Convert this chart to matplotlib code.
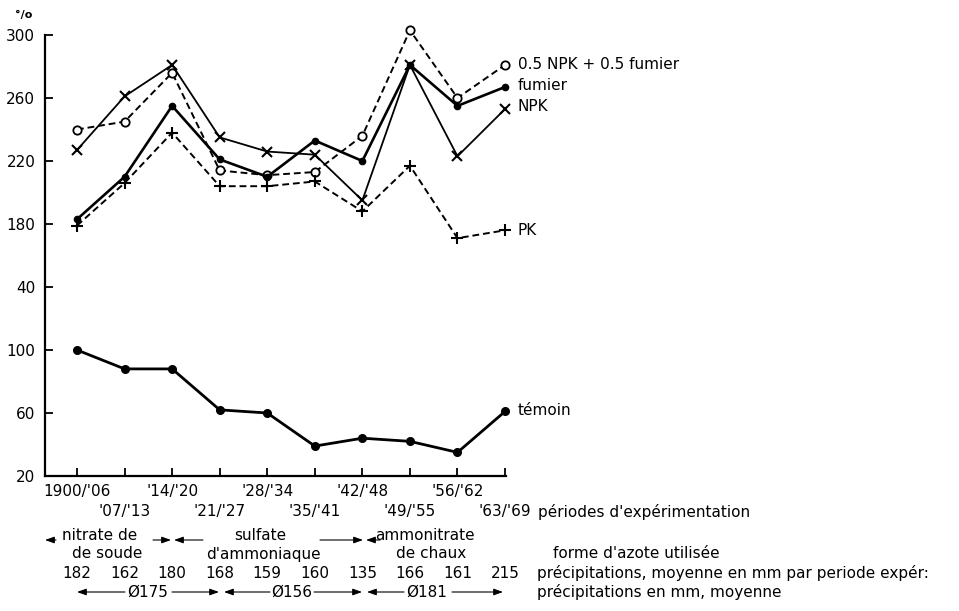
import numpy as np
import matplotlib
matplotlib.use('Agg')
import matplotlib.pyplot as plt
import matplotlib.transforms as mtransforms

# periods of experimentation (x axis)
periods = ["1900/'06", "'07/'13", "'14/'20", "'21/'27", "'28/'34",
           "'35/'41", "'42/'48", "'49/'55", "'56/'62", "'63/'69"]

# yields in %
npk_fumier = [240, 245, 276, 214, 211, 213, 236, 303, 260, 281]
fumier = [183, 210, 255, 221, 210, 233, 220, 281, 255, 267]
npk = [227, 261, 281, 235, 226, 224, 195, 281, 223, 253]
pk = [179, 206, 238, 204, 204, 207, 188, 217, 171, 176]
temoin = [100, 88, 88, 62, 60, 39, 44, 42, 35, 61]

# rainfall per period, mm
precip = [182, 162, 180, 168, 159, 160, 135, 166, 161, 215]
precip_mean = ['Ø175', 'Ø156', 'Ø181']

y_ticks = [20, 60, 100, 140, 180, 220, 260, 300]
y_tick_labels = ['20', '60', '100', '40', '180', '220', '260', '300']

W, H = 959, 611
FS = 11

fig = plt.figure(figsize=(W / 100, H / 100), dpi=100)
ax = fig.add_axes([45 / W, 1 - 476 / H, (506 - 45) / W, (476 - 35) / H])
x = np.arange(len(periods))

ax.plot(x, npk_fumier, ls=(0, (3.5, 2)), lw=1.4, color='k', marker='o',
        ms=6, mfc='white', mec='k', mew=1.3, clip_on=False, zorder=3)
ax.plot(x, fumier, ls='-', lw=1.9, color='k', marker='o', ms=4.5,
        clip_on=False, zorder=4)
ax.plot(x, npk, ls='-', lw=1.3, color='k', marker='x', ms=6.5, mew=1.5,
        clip_on=False, zorder=3)
ax.plot(x, pk, ls=(0, (3.5, 2)), lw=1.4, color='k', marker='+', ms=9,
        mew=1.5, clip_on=False, zorder=3)
ax.plot(x, temoin, ls='-', lw=2.0, color='k', marker='o', ms=5.5,
        clip_on=False, zorder=3)

ax.set_xlim(-0.673, 9.02)
ax.set_ylim(20, 300)
ax.spines['top'].set_visible(False)
ax.spines['right'].set_visible(False)
ax.spines['left'].set_linewidth(1.6)
ax.spines['bottom'].set_linewidth(1.6)

ax.set_yticks(y_ticks)
ax.set_yticklabels(y_tick_labels)
# two staggered rows of period labels: even ones on major ticks, odd ones on minor
ax.set_xticks(x[::2])
ax.set_xticklabels(periods[::2])
ax.set_xticks(x[1::2], minor=True)
ax.set_xticklabels(periods[1::2], minor=True)
ax.tick_params(which='both', direction='in', length=6, width=1.3, labelsize=FS)
ax.tick_params(axis='y', pad=7)
ax.tick_params(axis='x', which='major', pad=6)
ax.tick_params(axis='x', which='minor', pad=20)

# series labels at the line ends
ends = [('0.5 NPK + 0.5 fumier', npk_fumier, 0), ('fumier', fumier, 1),
        ('NPK', npk, 2), ('PK', pk, 0), ('témoin', temoin, 1)]
for name, ser, dy in ends:
    ax.annotate(name, (x[-1], ser[-1]), xytext=(9, dy), textcoords='offset points',
                va='center', ha='left', fontsize=FS, annotation_clip=False)

fig.text(15 / W, 1 - 15 / H, '°/o', fontsize=8, fontweight='bold', va='center')

trans = mtransforms.blended_transform_factory(ax.transData, fig.transFigure)


def fy(py):
    return 1 - py / H


def xd(px):
    return (px - 77) / 47.56


def arrow(tail, head, py):
    ax.annotate('', xy=(xd(head), fy(py)), xytext=(xd(tail), fy(py)),
                xycoords=trans, textcoords=trans, annotation_clip=False,
                arrowprops=dict(arrowstyle='-|>,head_length=0.5,head_width=0.18',
                                mutation_scale=11, lw=0.8, color='k',
                                shrinkA=0, shrinkB=0))


# nitrogen form rows
for txt, cx, py in [('nitrate de', 100, 535), ('de soude', 107, 554),
                    ('sulfate', 260, 535), ("d'ammoniaque", 263, 554),
                    ('ammonitrate', 425, 535), ('de chaux', 431, 554)]:
    ax.text(xd(cx), fy(py), txt, transform=trans, ha='center', va='center',
            fontsize=FS)
for tail, head in [(56, 45), (153, 171), (203, 174), (320, 363), (380, 366)]:
    arrow(tail, head, 540)

# rainfall per period
for i, v in enumerate(precip):
    ax.text(x[i], fy(573), str(v), transform=trans, ha='center', va='center',
            fontsize=FS)

# mean rainfall per nitrogen form
for txt, cx in zip(precip_mean, [148, 292, 427]):
    ax.text(xd(cx), fy(592), txt, transform=trans, ha='center', va='center',
            fontsize=FS)
for tail, head in [(125, 77), (172, 219), (270, 224), (314, 362), (404, 367),
                   (452, 503)]:
    arrow(tail, head, 592)

# row captions
for txt, px, py in [("périodes d'expérimentation", 538, 512),
                    ("forme d'azote utilisée", 553, 553),
                    ('précipitations, moyenne en mm par periode expér:', 537, 573),
                    ('précipitations en mm, moyenne', 537, 592)]:
    fig.text(px / W, fy(py), txt, ha='left', va='center', fontsize=FS)

fig.savefig('out.png', dpi=100)
